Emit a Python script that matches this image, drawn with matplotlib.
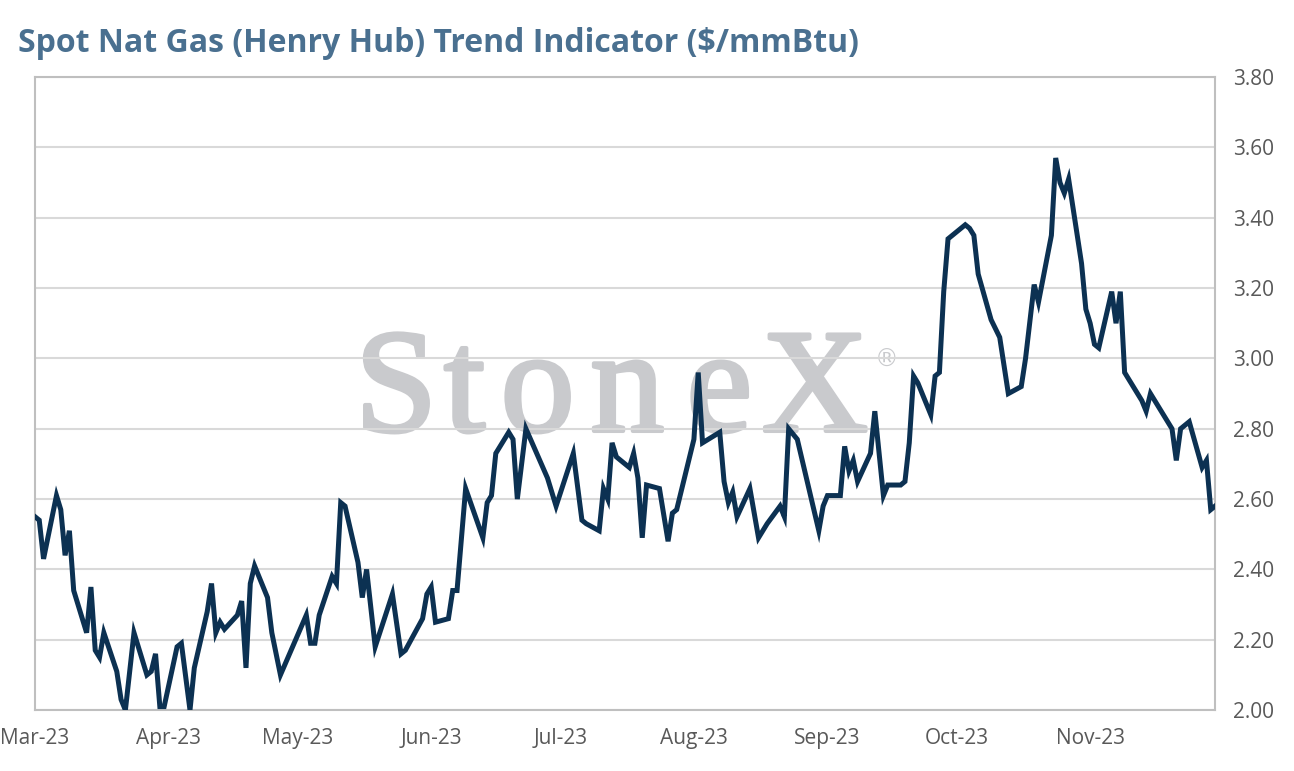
import matplotlib
matplotlib.use("Agg")
import matplotlib.pyplot as plt
import matplotlib.dates as mdates
import matplotlib.patheffects as pe
import pandas as pd

# Henry Hub spot trend indicator
dates = [
    "2023-03-01", "2023-03-02", "2023-03-03", "2023-03-06", "2023-03-07", "2023-03-08",
    "2023-03-09", "2023-03-10", "2023-03-13", "2023-03-14", "2023-03-15", "2023-03-16",
    "2023-03-17", "2023-03-20", "2023-03-21", "2023-03-22", "2023-03-24", "2023-03-27",
    "2023-03-28", "2023-03-29", "2023-03-30", "2023-03-31", "2023-04-03", "2023-04-04",
    "2023-04-06", "2023-04-07", "2023-04-10", "2023-04-11", "2023-04-12", "2023-04-13",
    "2023-04-14", "2023-04-17", "2023-04-18", "2023-04-19", "2023-04-20", "2023-04-21",
    "2023-04-24", "2023-04-25", "2023-04-27", "2023-05-03", "2023-05-04", "2023-05-05",
    "2023-05-06", "2023-05-09", "2023-05-10", "2023-05-11", "2023-05-12", "2023-05-15",
    "2023-05-16", "2023-05-17", "2023-05-19", "2023-05-23", "2023-05-25", "2023-05-26",
    "2023-05-30", "2023-05-31", "2023-06-01", "2023-06-02", "2023-06-05", "2023-06-06",
    "2023-06-07", "2023-06-09", "2023-06-13", "2023-06-14", "2023-06-15", "2023-06-16",
    "2023-06-19", "2023-06-20", "2023-06-21", "2023-06-23", "2023-06-28", "2023-06-30",
    "2023-07-04", "2023-07-06", "2023-07-07", "2023-07-10", "2023-07-11", "2023-07-12",
    "2023-07-13", "2023-07-14", "2023-07-17", "2023-07-18", "2023-07-19", "2023-07-20",
    "2023-07-21", "2023-07-24", "2023-07-26", "2023-07-27", "2023-07-28", "2023-08-01",
    "2023-08-02", "2023-08-03", "2023-08-07", "2023-08-08", "2023-08-09", "2023-08-10",
    "2023-08-11", "2023-08-14", "2023-08-16", "2023-08-18", "2023-08-21", "2023-08-22",
    "2023-08-23", "2023-08-25", "2023-08-30", "2023-08-31", "2023-09-01", "2023-09-04",
    "2023-09-05", "2023-09-06", "2023-09-07", "2023-09-08", "2023-09-11", "2023-09-12",
    "2023-09-14", "2023-09-15", "2023-09-18", "2023-09-19", "2023-09-20", "2023-09-21",
    "2023-09-22", "2023-09-25", "2023-09-26", "2023-09-27", "2023-09-28", "2023-09-29",
    "2023-10-03", "2023-10-04", "2023-10-05", "2023-10-06", "2023-10-09", "2023-10-11",
    "2023-10-13", "2023-10-16", "2023-10-17", "2023-10-19", "2023-10-20", "2023-10-23",
    "2023-10-24", "2023-10-25", "2023-10-26", "2023-10-27", "2023-10-30", "2023-10-31",
    "2023-11-01", "2023-11-02", "2023-11-03", "2023-11-06", "2023-11-07", "2023-11-08",
    "2023-11-09", "2023-11-13", "2023-11-14", "2023-11-15", "2023-11-20", "2023-11-21",
    "2023-11-22", "2023-11-24", "2023-11-27", "2023-11-28", "2023-11-29", "2023-11-30",
]
prices = [
    2.55, 2.54, 2.43, 2.61, 2.57, 2.44,
    2.51, 2.34, 2.22, 2.35, 2.17, 2.15,
    2.22, 2.11, 2.03, 2.00, 2.22, 2.10,
    2.11, 2.16, 2.01, 2.01, 2.18, 2.19,
    2.00, 2.12, 2.28, 2.36, 2.22, 2.25,
    2.23, 2.27, 2.31, 2.12, 2.36, 2.41,
    2.32, 2.22, 2.10, 2.27, 2.19, 2.19,
    2.27, 2.38, 2.36, 2.59, 2.58, 2.42,
    2.32, 2.40, 2.18, 2.33, 2.16, 2.17,
    2.26, 2.33, 2.35, 2.25, 2.26, 2.34,
    2.34, 2.63, 2.49, 2.59, 2.61, 2.73,
    2.79, 2.77, 2.60, 2.80, 2.66, 2.58,
    2.73, 2.54, 2.53, 2.51, 2.63, 2.60,
    2.76, 2.72, 2.69, 2.73, 2.66, 2.49,
    2.64, 2.63, 2.48, 2.56, 2.57, 2.77,
    2.96, 2.76, 2.79, 2.65, 2.59, 2.62,
    2.55, 2.63, 2.49, 2.53, 2.58, 2.55,
    2.80, 2.77, 2.51, 2.58, 2.61, 2.61,
    2.75, 2.68, 2.71, 2.65, 2.73, 2.85,
    2.61, 2.64, 2.64, 2.65, 2.76, 2.95,
    2.93, 2.84, 2.95, 2.96, 3.19, 3.34,
    3.38, 3.37, 3.35, 3.24, 3.11, 3.06,
    2.90, 2.92, 3.00, 3.21, 3.16, 3.35,
    3.57, 3.50, 3.47, 3.51, 3.27, 3.14,
    3.10, 3.04, 3.03, 3.19, 3.10, 3.19,
    2.96, 2.88, 2.85, 2.90, 2.80, 2.71,
    2.80, 2.82, 2.69, 2.71, 2.57, 2.58,
]
y_ticks = [2.00, 2.20, 2.40, 2.60, 2.80, 3.00, 3.20, 3.40, 3.60, 3.80]
title = "Spot Nat Gas (Henry Hub) Trend Indicator ($/mmBtu)"

df = pd.DataFrame({"date": pd.to_datetime(dates), "price": prices})

line_col = "#0c3152"
grid_col = "#d9d9d9"
spine_col = "#bfbfbf"
text_col = "#595959"
mark_col = "#c9cacd"

fig = plt.figure(figsize=(12.94, 7.71), dpi=100)
ax = fig.add_axes([0.027, 0.079, 0.912, 0.821])

# watermark: regular serif thickened with a stroke, letters set like the logo
thick = [pe.withStroke(linewidth=3, foreground=mark_col)]
for letter, xc in zip("StoneX", [0.306, 0.364, 0.426, 0.502, 0.580, 0.661]):
    ax.text(xc, 0.441, letter, transform=ax.transAxes, ha="center", va="baseline",
            fontsize=106, family="Liberation Serif", color=mark_col, zorder=0,
            path_effects=thick)
ax.text(0.722, 0.553, "\u00ae", transform=ax.transAxes, ha="center", va="center",
        fontsize=17, family="DejaVu Sans", color=mark_col, zorder=0)

ax.plot(df["date"], df["price"], color=line_col, lw=3.6, solid_joinstyle="miter",
        zorder=3)

ax.set_xlim(pd.Timestamp("2023-03-01"), pd.Timestamp("2023-11-30"))
ax.set_ylim(2.0, 3.8)
ax.set_yticks(y_ticks)
ax.yaxis.set_major_formatter(plt.FuncFormatter(lambda v, p: f"{v:.2f}"))
ax.yaxis.tick_right()
ax.xaxis.set_major_locator(mdates.MonthLocator())
ax.xaxis.set_major_formatter(mdates.DateFormatter("%b-%y"))

ax.grid(axis="y", color=grid_col, lw=1.5, zorder=1)
ax.set_axisbelow(True)
for s in ax.spines.values():
    s.set_color(spine_col)
    s.set_linewidth(1.5)

ax.tick_params(axis="both", length=0, labelsize=15, labelcolor=text_col)
ax.tick_params(axis="x", pad=13)
ax.tick_params(axis="y", pad=13)
for lab in ax.get_xticklabels() + ax.get_yticklabels():
    lab.set_family("Open Sans")

fig.text(0.014, 0.944, title, ha="left", va="center", fontsize=23,
         fontweight="bold", family="Open Sans", color="#4a7090")

fig.savefig("out.png", dpi=100)
